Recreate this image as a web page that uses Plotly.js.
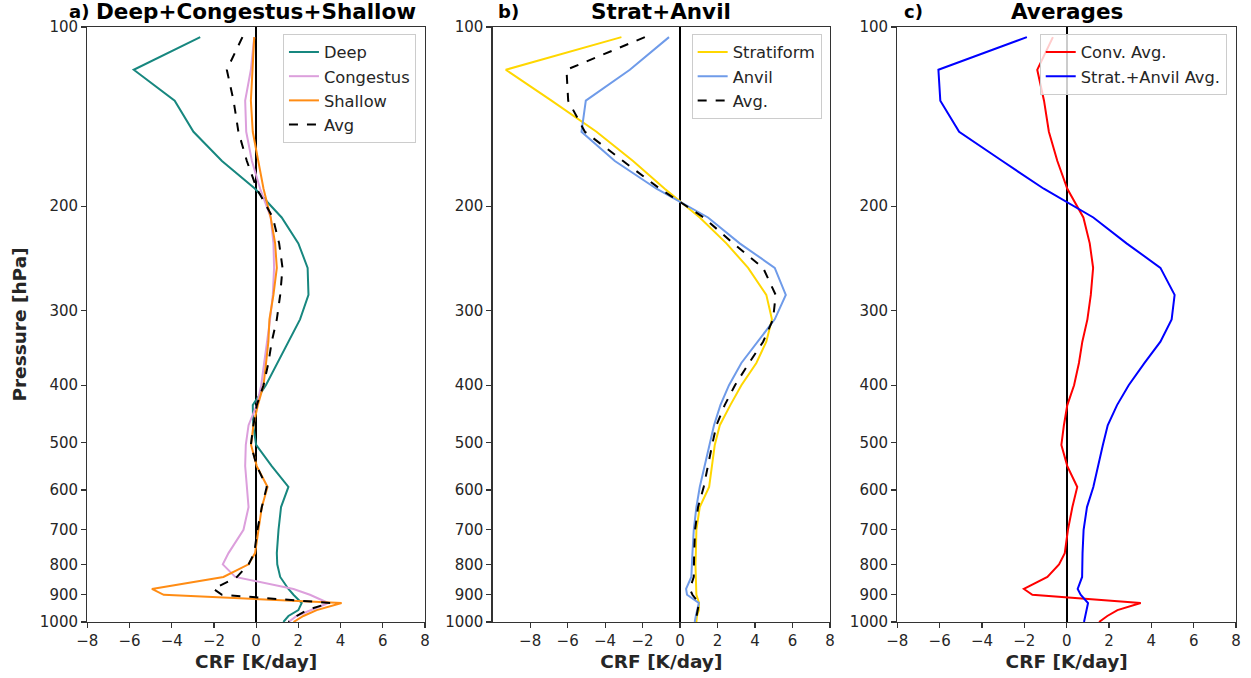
<!DOCTYPE html>
<html>
<head>
<meta charset="utf-8">
<script src="https://cdn.plot.ly/plotly-3.0.1.min.js"></script>
<style>html,body{margin:0;padding:0;background:#fff;}#chart{width:1251px;height:678px;}</style>
</head>
<body>
<div id="chart"></div>
<script>
// Pressure levels [hPa]
const pressure = [104,118,133,150,168,187,209,231,254,282,310,338,367,400,432,467,504,547,593,641,700,766,800,840,880,900,929,955,977,1000];

// Panel a: convective types, CRF [K/day]
const deep      = [-2.65,-5.80,-3.86,-2.97,-1.62,-0.05,1.21,2.00,2.44,2.48,2.08,1.53,0.98,0.46,-0.16,-0.14,0.00,0.74,1.53,1.18,1.06,0.98,1.00,1.14,1.53,1.77,2.16,2.00,1.53,1.29];
const congestus = [-0.09,-0.25,-0.52,-0.47,-0.20,0.19,0.69,0.82,0.85,0.79,0.66,0.50,0.38,0.24,0.03,-0.36,-0.49,-0.52,-0.44,-0.36,-0.60,-1.31,-1.58,-0.99,1.77,2.55,3.42,2.55,1.92,1.53];
const shallow   = [-0.09,-0.16,-0.25,-0.16,0.11,0.35,0.69,0.90,0.98,0.82,0.63,0.58,0.47,0.35,0.08,-0.13,-0.24,0.03,0.54,0.27,0.11,-0.05,-0.36,-1.55,-4.94,-4.38,4.05,2.87,2.24,1.77];
const convAvg   = [-0.65,-1.39,-1.07,-0.84,-0.44,0.03,0.79,1.09,1.25,1.14,0.98,0.74,0.58,0.35,0.03,-0.13,-0.25,0.03,0.50,0.27,0.06,-0.09,-0.36,-0.91,-2.02,-1.62,3.50,2.40,1.92,1.53];

// Panel b: stratiform and anvil, CRF [K/day]
const stratiform = [-3.13,-9.30,-6.86,-4.46,-2.51,-0.82,1.05,2.47,3.63,4.60,4.90,4.60,4.07,3.27,2.68,2.12,1.85,1.69,1.55,1.05,0.87,0.84,0.82,0.84,0.84,0.87,1.01,1.00,0.90,0.87];
const anvil      = [-0.59,-2.68,-5.03,-5.26,-3.48,-1.26,1.49,3.18,5.05,5.64,5.05,4.16,3.27,2.61,2.15,1.81,1.58,1.32,1.05,0.87,0.73,0.66,0.64,0.60,0.32,0.37,1.00,0.90,0.84,0.78];
const stratAvg   = [-1.88,-6.06,-5.97,-5.08,-3.04,-1.08,1.26,2.83,4.43,5.10,4.96,4.43,3.68,2.93,2.38,1.94,1.71,1.49,1.26,0.96,0.80,0.75,0.73,0.73,0.52,0.66,1.01,0.94,0.87,0.82];

const pTicks = [100,200,300,400,500,600,700,800,900,1000];
const xTicks = [-8,-6,-4,-2,0,2,4,6,8];

const FONT = "DejaVu Sans, Liberation Sans, sans-serif";
const TXT = "#262626";

function tr(x, name, color, xa, ya, leg, dash){
  return {x:x, y:pressure, type:'scatter', mode:'lines', name:name,
    xaxis:xa, yaxis:ya, legend:leg,
    line:{color:color, width:2, dash:dash||'solid'}};
}

const data = [
  tr(deep,'Deep','#17877f','x','y','legend'),
  tr(congestus,'Congestus','#dc9fdc','x','y','legend'),
  tr(shallow,'Shallow','#ff8c14','x','y','legend'),
  tr(convAvg,'Avg','#000000','x','y','legend','dash'),
  tr(stratiform,'Stratiform','#ffd700','x2','y2','legend2'),
  tr(anvil,'Anvil','#6f9be9','x2','y2','legend2'),
  tr(stratAvg,'Avg.','#000000','x2','y2','legend2','dash'),
  tr(convAvg,'Conv. Avg.','#ff0000','x3','y3','legend3'),
  tr(stratAvg,'Strat.+Anvil Avg.','#0000ff','x3','y3','legend3')
];

function xax(dom, range, anchor){
  return {domain:dom, range:range, anchor:anchor, tickvals:xTicks, ticks:'outside', ticklen:5, tickwidth:1.2,
    tickcolor:'#333', showline:true, mirror:true, linecolor:'#333', linewidth:1.3, showgrid:false,
    zeroline:true, zerolinecolor:'#000', zerolinewidth:2,
    tickfont:{family:FONT,size:15,color:TXT},
    title:{text:'<b>CRF [K/day]</b>', font:{family:FONT,size:18.5,color:TXT}, standoff:5}};
}
function yax(anchor, withTitle){
  const a = {domain:[0.0826,0.9602], type:'log', range:[3,2], anchor:anchor, tickvals:pTicks,
    ticktext:pTicks.map(String), ticks:'outside', ticklen:5, tickwidth:1.2, tickcolor:'#333',
    showline:true, mirror:true, linecolor:'#333', linewidth:1.3, showgrid:false, zeroline:false,
    tickfont:{family:FONT,size:15,color:TXT}};
  if (withTitle) a.title = {text:'<b>Pressure [hPa]</b>', font:{family:FONT,size:18.5,color:TXT}, standoff:8};
  return a;
}
function leg(xr, yt){
  return {x:xr, y:yt, xanchor:'right', yanchor:'top', xref:'paper', yref:'paper',
    bgcolor:'rgba(255,255,255,0.8)', bordercolor:'#cccccc', borderwidth:1,
    font:{family:FONT,size:16.3,color:TXT}, tracegroupgap:0};
}
function ann(x, text, size, xanchor){
  return {x:x, y:0.983, xref:'paper', yref:'paper', text:text, showarrow:false,
    xanchor:xanchor, yanchor:'middle', font:{family:FONT,size:size,color:'#000'}};
}

const layout = {
  width:1251, height:678, margin:{l:0,r:0,t:0,b:0},
  paper_bgcolor:'#fff', plot_bgcolor:'#fff', showlegend:true,
  xaxis:xax([0.0698,0.3397],[-8,8],'y'),
  xaxis2:xax([0.3938,0.6635],[-10,8],'y2'),
  xaxis3:xax([0.7173,0.9880],[-8,8],'y3'),
  yaxis:yax('x',true),
  yaxis2:yax('x2',false),
  yaxis3:yax('x3',false),
  legend:leg(0.3325,0.950),
  legend2:leg(0.6568,0.950),
  legend3:leg(0.9806,0.950),
  annotations:[
    ann(0.0535,'<b>a)</b>',18,'left'),
    ann(0.2048,'<b>Deep+Congestus+Shallow</b>',21.5,'center'),
    ann(0.3965,'<b>b)</b>',18,'left'),
    ann(0.5283,'<b>Strat+Anvil</b>',21.5,'center'),
    ann(0.7210,'<b>c)</b>',18,'left'),
    ann(0.8527,'<b>Averages</b>',21.5,'center')
  ]
};

Plotly.newPlot('chart', data, layout, {displayModeBar:false, staticPlot:true});
</script>
</body>
</html>
